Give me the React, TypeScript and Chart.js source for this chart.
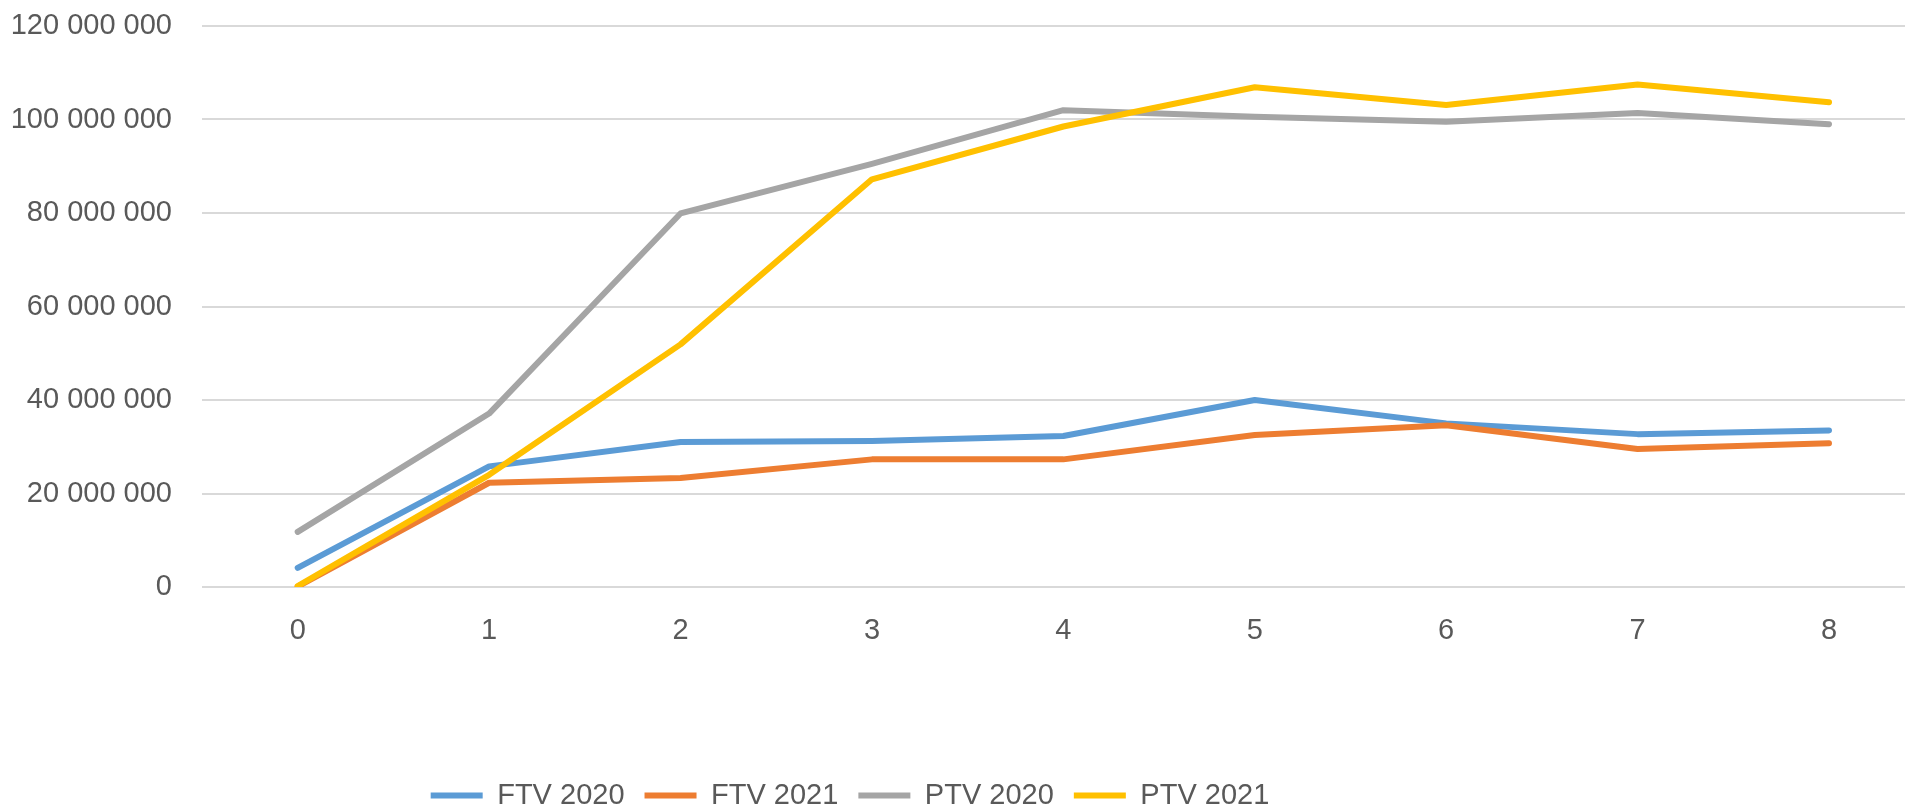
import React, { useEffect, useRef } from "react";
import { Chart, registerables } from "chart.js";

Chart.register(...registerables);

const categories = [0, 1, 2, 3, 4, 5, 6, 7, 8];
const ftv2020 = [4100000, 25800000, 31000000, 31250000, 32300000, 40000000, 35000000, 32700000, 33500000];
const ftv2021 = [100000, 22300000, 23300000, 27300000, 27300000, 32500000, 34600000, 29500000, 30750000];
const ptv2020 = [11800000, 37100000, 79900000, 90500000, 102000000, 100600000, 99500000, 101400000, 99000000];
const ptv2021 = [200000, 24000000, 51900000, 87200000, 98500000, 106900000, 103100000, 107500000, 103700000];
const seriesNames = ["FTV 2020", "FTV 2021", "PTV 2020", "PTV 2021"];
const seriesColors = ["#5B9BD5", "#ED7D31", "#A5A5A5", "#FFC000"];
const yTicks = [0, 20000000, 40000000, 60000000, 80000000, 100000000, 120000000];

const FONT = "'Liberation Sans', Arial, sans-serif";
const TEXT = "#595959";

function fmt(v: number) {
  return String(Math.round(v)).replace(/\B(?=(\d{3})+(?!\d))/g, " ");
}

const legendShift = {
  id: "legendShift",
  afterLayout(chart: any) {
    const lg = chart.legend;
    if (!lg) return;
    lg.left = 0;
    lg.right = 1700;
    lg.top += 8;
    lg.bottom += 8;
  },
};

export default function App() {
  const ref = useRef<HTMLCanvasElement | null>(null);
  useEffect(() => {
    document.body.style.margin = "0";
    const all = [ftv2020, ftv2021, ptv2020, ptv2021];
    const chart = new Chart(ref.current as HTMLCanvasElement, {
      type: "line",
      data: {
        datasets: all.map((arr, i) => ({
          label: seriesNames[i],
          data: arr.map((v, j) => ({ x: categories[j], y: v })),
          borderColor: seriesColors[i],
          backgroundColor: seriesColors[i],
          borderWidth: 6,
          pointRadius: 0,
          borderCapStyle: "round" as const,
          borderJoinStyle: "round" as const,
          tension: 0,
          fill: false,
          order: 3 - i,
        })),
      },
      options: {
        animation: false,
        responsive: false,
        maintainAspectRatio: false,
        layout: { padding: { top: 26, left: 0, right: 0, bottom: 0 } },
        plugins: {
          tooltip: { enabled: false },
          legend: {
            position: "bottom",
            align: "center",
            labels: {
              usePointStyle: true,
              pointStyle: "line",
              pointStyleWidth: 52,
              padding: 20,
              color: TEXT,
              font: { family: FONT, size: 29 },
              sort: (a: any, b: any) => a.datasetIndex - b.datasetIndex,
            },
          },
        },
        scales: {
          x: {
            type: "linear",
            min: -0.5,
            max: 8.397,
            grid: { display: false, drawTicks: false },
            border: { display: false },
            afterBuildTicks: (axis: any) => {
              axis.ticks = categories.map((v) => ({ value: v }));
            },
            afterFit: (axis: any) => {
              axis.height = 166;
            },
            ticks: {
              color: TEXT,
              font: { family: FONT, size: 29 },
              padding: 27,
              maxRotation: 0,
              autoSkip: false,
              callback: (v: any) => String(v),
            },
          },
          y: {
            min: 0,
            max: 120000000,
            grid: {
              color: "#D9D9D9",
              lineWidth: 2,
              drawTicks: true,
              tickLength: 30,
              tickColor: "rgba(0,0,0,0)",
            },
            border: { display: false },
            afterBuildTicks: (axis: any) => {
              axis.ticks = yTicks.map((v) => ({ value: v }));
            },
            afterFit: (axis: any) => {
              axis.width = 202;
            },
            ticks: {
              color: TEXT,
              font: { family: FONT, size: 29 },
              padding: 0,
              callback: (v: any) => fmt(Number(v)),
            },
          },
        },
      },
      plugins: [legendShift],
    } as any);
    return () => chart.destroy();
  }, []);
  return (
    <div style={{ position: "absolute", left: 0, top: 0, width: 1905, height: 812, background: "#fff" }}>
      <canvas ref={ref} width={1905} height={812} style={{ width: 1905, height: 812 }} />
    </div>
  );
}
